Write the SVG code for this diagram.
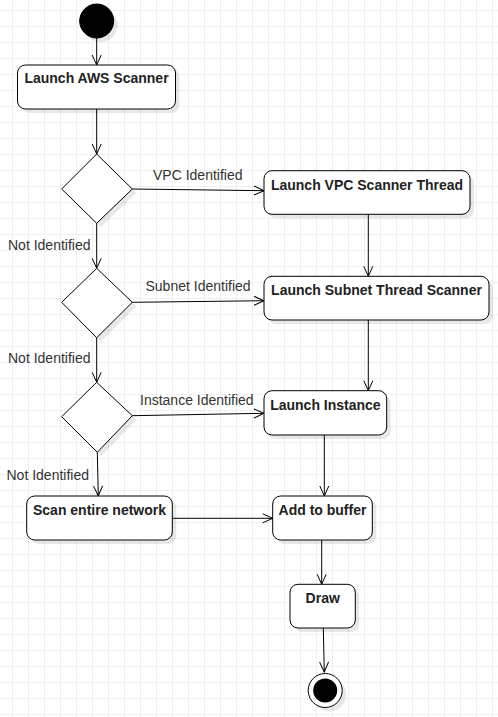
<svg xmlns="http://www.w3.org/2000/svg" width="498" height="717" viewBox="0 0 498 717">
<style>
.node{fill:#fff;stroke:#000;stroke-width:1}
.shadow{fill:#000;fill-opacity:0.09;stroke:none}
.nt{font-family:"Liberation Sans",Arial,sans-serif;font-size:14px;font-weight:bold;fill:#222;text-anchor:middle}
.et{font-family:"Liberation Sans",Arial,sans-serif;font-size:14px;fill:#333}
.edge{fill:none;stroke:#000;stroke-width:1;marker-end:url(#arr)}
</style>
<defs>
<pattern id="grid" patternUnits="userSpaceOnUse" x="12" y="10" width="16" height="16">
<path d="M0.5 0V16M0 0.5H16" fill="none" stroke="#efefef" stroke-width="1"/>
</pattern>
<marker id="arr" markerUnits="userSpaceOnUse" markerWidth="14" markerHeight="14" refX="11" refY="7" orient="auto" overflow="visible">
<path d="M1,2.5 L11,7 L1,11.5" fill="none" stroke="#000" stroke-width="1"/>
</marker>
</defs>
<rect x="0" y="0" width="498" height="717" fill="#fff"/>
<rect x="0" y="0" width="498" height="717" fill="url(#grid)"/>

<g id="connectors">
<line class="edge" x1="96.7" y1="38" x2="96.7" y2="65"/>
<line class="edge" x1="96.7" y1="109" x2="96.7" y2="154"/>
<line class="edge" x1="132.3" y1="189" x2="264" y2="190.7"/>
<text class="et" x="153" y="180">VPC Identified</text>
<line class="edge" x1="96.7" y1="223.3" x2="96.7" y2="268.3"/>
<text class="et" x="8" y="249.5">Not Identified</text>
<line class="edge" x1="132.3" y1="302.3" x2="264" y2="300.7"/>
<text class="et" x="145.5" y="291">Subnet Identified</text>
<line class="edge" x1="96.7" y1="337.7" x2="96.7" y2="382.3"/>
<text class="et" x="8" y="363.3">Not Identified</text>
<line class="edge" x1="132.3" y1="415.7" x2="264" y2="413.3"/>
<text class="et" x="140" y="405">Instance Identified</text>
<line class="edge" x1="97.3" y1="452.3" x2="98.3" y2="496"/>
<text class="et" x="6.5" y="480">Not Identified</text>
<line class="edge" x1="368.3" y1="214.3" x2="368.3" y2="276.3"/>
<line class="edge" x1="368.3" y1="320" x2="368.3" y2="390.7"/>
<line class="edge" x1="324.3" y1="435" x2="324.3" y2="496"/>
<line class="edge" x1="172.3" y1="518.3" x2="272.7" y2="518.3"/>
<line class="edge" x1="321.7" y1="540" x2="321.7" y2="584.3"/>
<line class="edge" x1="323.3" y1="628" x2="324.3" y2="672"/>
</g>

<g id="start">
<circle class="shadow" cx="100.7" cy="25" r="17"/>
<circle cx="96.7" cy="21" r="17" fill="#000" stroke="#000"/>
</g>

<g id="launch-aws">
<rect class="shadow" x="21.5" y="69" width="158" height="44" rx="8"/>
<rect class="node" x="17.5" y="65" width="158" height="44" rx="8"/>
<text class="nt" x="96.5" y="83.3">Launch AWS Scanner</text>
</g>

<g id="decision-vpc">
<polygon class="shadow" points="100.7,158 136.3,193 100.7,227.3 65.7,193"/>
<polygon class="node" points="96.7,154 132.3,189 96.7,223.3 61.7,189"/>
</g>

<g id="decision-subnet">
<polygon class="shadow" points="100.7,272.3 136.3,306.3 100.7,341.7 65.7,306.3"/>
<polygon class="node" points="96.7,268.3 132.3,302.3 96.7,337.7 61.7,302.3"/>
</g>

<g id="decision-instance">
<polygon class="shadow" points="100.7,386.3 136.3,419.7 101.3,456.3 65.7,420.7"/>
<polygon class="node" points="96.7,382.3 132.3,415.7 97.3,452.3 61.7,416.7"/>
</g>

<g id="launch-vpc">
<rect class="shadow" x="268" y="174.7" width="206" height="43.6" rx="8"/>
<rect class="node" x="264" y="170.7" width="206" height="43.6" rx="8"/>
<text class="nt" x="367" y="190">Launch VPC Scanner Thread</text>
</g>

<g id="launch-subnet">
<rect class="shadow" x="268" y="280.3" width="225" height="43.7" rx="8"/>
<rect class="node" x="264" y="276.3" width="225" height="43.7" rx="8"/>
<text class="nt" x="376.5" y="294.8">Launch Subnet Thread Scanner</text>
</g>

<g id="launch-instance">
<rect class="shadow" x="268" y="394.7" width="122.7" height="44.3" rx="8"/>
<rect class="node" x="264" y="390.7" width="122.7" height="44.3" rx="8"/>
<text class="nt" x="325.4" y="410">Launch Instance</text>
</g>

<g id="scan-network">
<rect class="shadow" x="30.7" y="500" width="145.6" height="44" rx="8"/>
<rect class="node" x="26.7" y="496" width="145.6" height="44" rx="8"/>
<text class="nt" x="99.5" y="515">Scan entire network</text>
</g>

<g id="add-buffer">
<rect class="shadow" x="276.7" y="500" width="99.6" height="44" rx="8"/>
<rect class="node" x="272.7" y="496" width="99.6" height="44" rx="8"/>
<text class="nt" x="322.5" y="515">Add to buffer</text>
</g>

<g id="draw">
<rect class="shadow" x="294" y="588.3" width="65.3" height="43.7" rx="8"/>
<rect class="node" x="290" y="584.3" width="65.3" height="43.7" rx="8"/>
<text class="nt" x="322.7" y="603.3">Draw</text>
</g>

<g id="end">
<circle class="shadow" cx="329.2" cy="694.5" r="17"/>
<circle class="node" cx="325.2" cy="690.5" r="17"/>
<circle cx="325.2" cy="690.5" r="12" fill="#000"/>
</g>
</svg>
